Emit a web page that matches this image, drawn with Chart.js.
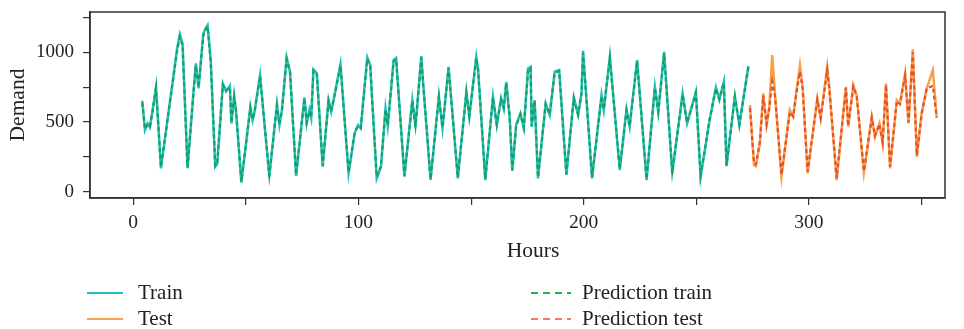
<!DOCTYPE html>
<html>
<head>
<meta charset="utf-8">
<script src="https://cdn.jsdelivr.net/npm/chart.js@4"></script>
<style>
html,body{margin:0;padding:0;background:#fff;}
#wrap{position:relative;width:964px;height:329px;}
#chart{position:absolute;left:0;top:0;}
.lg,.ttl{position:absolute;font-family:'Liberation Serif','DejaVu Serif',serif;font-size:21px;color:#222;line-height:22px;white-space:nowrap;}
.ttl{font-size:21.5px;transform:translateX(-50%);}
.lg svg{position:absolute;left:0;top:10px;}
.lg span{position:absolute;left:51px;top:0;}
</style>
</head>
<body>
<div id="wrap">
  <canvas id="chart" width="964" height="329"></canvas>
  <div class="ttl" style="left:533px;top:239px;">Hours</div>
  <div class="lg" style="left:87px;top:281px;"><svg width="42" height="4"><line x1="0" y1="2" x2="36" y2="2" stroke="#1ec4c0" stroke-width="2"/></svg><span>Train</span></div>
  <div class="lg" style="left:87px;top:307px;"><svg width="42" height="4"><line x1="0" y1="2" x2="36" y2="2" stroke="#f7a050" stroke-width="2"/></svg><span>Test</span></div>
  <div class="lg" style="left:531px;top:281px;"><svg width="42" height="4"><line x1="0" y1="2" x2="40" y2="2" stroke="#1cb54a" stroke-width="2" stroke-dasharray="7,5"/></svg><span>Prediction train</span></div>
  <div class="lg" style="left:531px;top:307px;"><svg width="42" height="4"><line x1="0" y1="2" x2="40" y2="2" stroke="#f07866" stroke-width="2" stroke-dasharray="7,5"/></svg><span>Prediction test</span></div>
</div>
<script>
/* ── DATA ── */
var trainHours=[4,5.2,6.4,7.4,8.6,10.1,12.3,19.5,20.7,21.9,24.1,26.7,27.8,29,31.1,32,33,34.4,36.4,37.3,39.8,41.2,42.9,43.6,44.8,45.6,48,52,53,53.8,56.3,60.4,63.8,64.9,66,68.1,69.6,72.3,76,77,78.2,79,80,81.5,84.1,86.7,87.9,89.8,92,95.6,98.3,99.8,101,103.9,105.2,108.1,110,112,113,115.6,116.7,120.4,123.9,125.3,127.9,128.6,132,135.7,137.3,140,144.1,147.9,149.2,152.3,153.1,156.3,159.7,161.4,163.3,164.5,165.6,167.1,168.3,170,171.9,173.4,175.3,176.4,176.9,178.2,179.7,183.1,184.9,187.1,189.1,192.3,195.6,197.5,199,199.7,203.7,207.9,208.9,211.6,216,219,220.4,221.6,223.7,227.9,231.6,233.1,235.7,239.3,243.9,245.9,249.8,251.9,255.9,258.7,260.2,262.2,263.4,267.1,269.1,273.1];
var trainDemand=[653,443,490,462,586,753,168,1030,1131,1060,168,706,921,742,1136,1170,1196,945,179,200,777,720,760,490,690,586,66,610,514,570,837,108,627,478,586,964,861,113,677,490,586,528,878,850,179,658,574,730,916,132,419,478,455,964,909,96,179,598,470,945,960,108,658,466,973,801,84,686,455,897,96,717,538,969,880,84,682,478,670,598,789,538,150,478,562,455,885,897,466,658,96,634,550,861,873,120,677,550,706,1012,96,694,586,969,156,591,466,646,945,84,753,570,1004,132,706,490,717,108,514,749,660,789,184,686,478,902];
var trainPredicted=[640,450,485,470,580,740,178,1015,1110,1050,176,700,905,750,1120,1160,1185,935,188,210,765,725,750,496,680,590,76,600,520,565,830,118,620,485,580,950,858,122,670,498,580,535,868,845,188,650,578,722,905,140,425,472,460,952,902,105,186,590,478,935,952,116,650,472,962,798,92,678,462,888,104,710,545,958,875,92,675,484,664,602,780,545,158,472,556,462,875,888,472,652,104,628,556,852,866,128,670,556,700,998,104,688,592,958,164,585,472,640,935,92,745,576,992,140,698,496,710,116,520,742,664,780,190,680,484,892];
var testHours=[273.8,275.6,276.4,278.2,279.7,281.2,282.4,283.7,284.9,287.8,291.5,293,294.5,296,297.2,299.4,303.7,305.2,308.1,309,312.3,314.8,316.4,317.4,319.7,321.2,324.4,327.9,329.3,331.3,332.7,334.2,336,339,340.4,342.7,344.2,346.1,347.9,350,352.3,355,356.7];
var testDemand=[622,191,184,347,706,478,610,981,706,108,586,538,730,909,753,132,670,527,897,753,84,490,753,466,765,690,136,538,395,490,347,777,168,658,634,849,490,1022,251,562,742,873,538];
var testPredicted=[600,205,196,355,690,486,600,790,690,122,572,540,712,860,740,145,660,530,870,745,98,496,745,472,755,684,148,532,402,486,356,765,180,650,628,835,498,1000,262,556,742,760,530];
var xTickValues=[0,50,100,150,200,250,300,350];
var xTickLabels=['0','','100','','200','','300',''];
var yTickValues=[0,250,500,750,1000,1250];
var yTickLabels=['0','','500','','1000',''];

function pts(h,v){return h.map(function(x,i){return {x:x,y:v[i]};});}

var serif="'Liberation Serif','DejaVu Serif',serif";
var frame={id:'frame',afterDraw:function(c){var a=c.chartArea,ctx=c.ctx;ctx.save();ctx.strokeStyle='#333';ctx.lineWidth=1.5;ctx.strokeRect(a.left,a.top,a.right-a.left,a.bottom-a.top);ctx.restore();}};

// dataset 0 is drawn on top, so the dashed predictions go first
new Chart(document.getElementById('chart').getContext('2d'),{
  type:'line',
  data:{datasets:[
    {label:'Prediction train',data:pts(trainHours,trainPredicted),borderColor:'#18a060',borderWidth:2.2,borderDash:[4,3],pointRadius:0,tension:0},
    {label:'Prediction test',data:pts(testHours,testPredicted),borderColor:'#e5502e',borderWidth:2.2,borderDash:[4,3],pointRadius:0,tension:0},
    {label:'Train',data:pts(trainHours,trainDemand),borderColor:'#22bfc0',borderWidth:2.5,pointRadius:0,tension:0},
    {label:'Test',data:pts(testHours,testDemand),borderColor:'#f7a048',borderWidth:2.5,pointRadius:0,tension:0}
  ]},
  options:{
    responsive:false,animation:false,
    layout:{padding:{left:0,top:12,right:19,bottom:64}},
    plugins:{legend:{display:false},tooltip:{enabled:false}},
    scales:{
      x:{type:'linear',min:-19.2,max:360.4,
        afterBuildTicks:function(s){s.ticks=xTickValues.map(function(v){return {value:v};});},
        afterFit:function(s){s.height=67;s.paddingLeft=0;s.paddingRight=0;},
        ticks:{autoSkip:false,maxRotation:0,padding:6,color:'#222',font:{family:serif,size:19.5},callback:function(v,i){return xTickLabels[i];}},
        grid:{display:true,drawOnChartArea:false,drawTicks:true,tickLength:7,color:'#333',lineWidth:1.2},
        border:{display:true,color:'#333',width:1.5},
        title:{display:false}
      },
      y:{type:'linear',min:-45,max:1290,
        afterBuildTicks:function(s){s.ticks=yTickValues.map(function(v){return {value:v};});},
        afterFit:function(s){s.width=90;s.paddingTop=0;s.paddingBottom=0;},
        ticks:{autoSkip:false,padding:9,color:'#222',font:{family:serif,size:19},callback:function(v,i){return yTickLabels[i];}},
        grid:{display:true,drawOnChartArea:false,drawTicks:true,tickLength:7,color:'#333',lineWidth:1.2},
        border:{display:true,color:'#333',width:1.5},
        title:{display:true,text:'Demand',color:'#222',font:{family:serif,size:21.5},padding:{top:5,bottom:0}}
      }
    }
  },
  plugins:[frame]
});
</script>
</body>
</html>
